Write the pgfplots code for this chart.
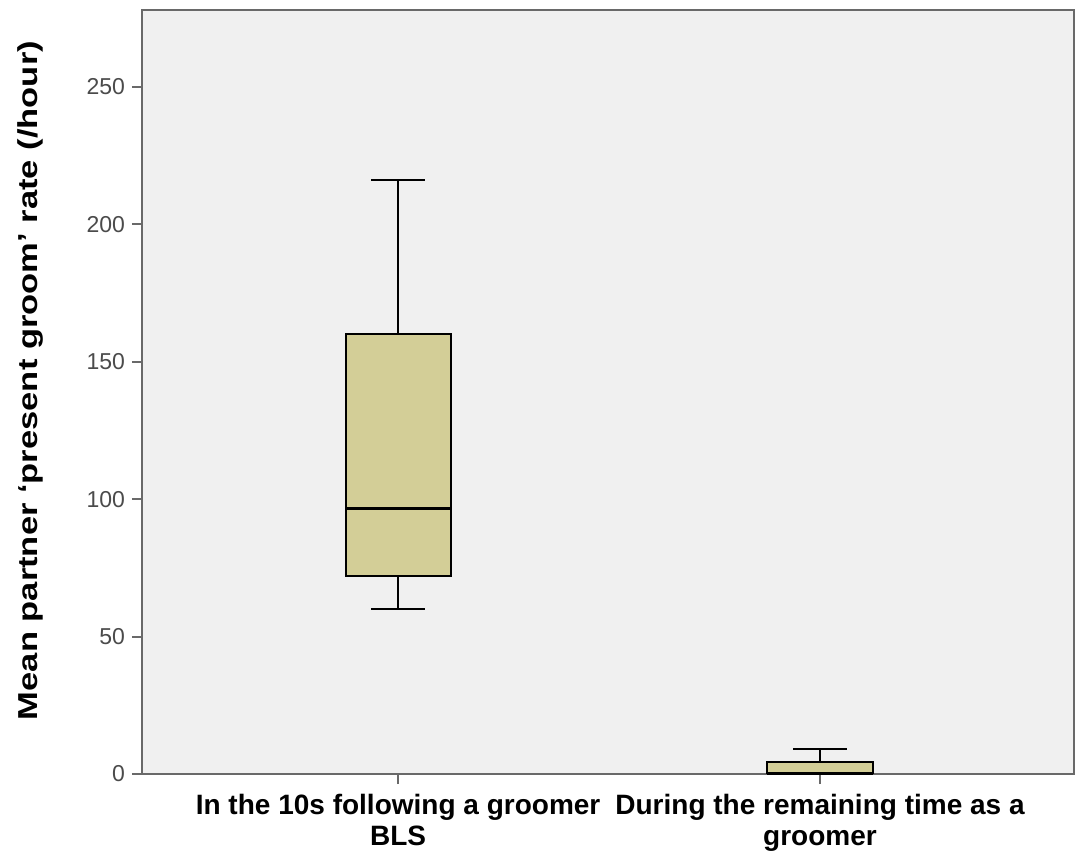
\documentclass[border=0pt]{standalone}
\usepackage{fontspec}
\setmainfont{Liberation Sans}
\usepackage{graphicx}
\usepackage{pgfplots}
\pgfplotsset{compat=1.18}
\definecolor{boxfill}{RGB}{211,206,151}
\definecolor{panelbg}{RGB}{240,240,240}
\definecolor{framegray}{RGB}{105,105,105}
\definecolor{ticktext}{RGB}{75,75,75}

\begin{document}
\begin{tikzpicture}
\useasboundingbox (-71pt,-39pt) rectangle (467pt,387pt);
\begin{axis}[
  scale only axis,
  width=466pt, height=382pt,
  xmin=0.393, xmax=2.602,
  ymin=0, ymax=278,
  axis background/.style={fill=panelbg},
  axis line style={framegray, line width=1pt},
  tick style={framegray, line width=1pt},
  tick align=outside,
  tick pos=left,
  major tick length=5pt,
  xtick={1,2},
  xticklabels={In the 10s following a groomer\\BLS, During the remaining time as a\\groomer},
  xticklabel style={align=center, font=\bfseries\fontsize{14}{15.5}\selectfont, text=black, yshift=-1.5pt},
  ytick={0,50,100,150,200,250},
  yticklabel style={font=\fontsize{11.5}{12}\selectfont, text=ticktext},
  /pgf/number format/assume math mode=true,
  ylabel={\scalebox{1.26}[1]{Mean partner ‘present groom’ rate (/hour)}},
  ylabel style={font=\bfseries\fontsize{13.7}{15}\selectfont, at={(axis description cs:-0.12,0.515)}, anchor=center},
]
% group 1: whiskers 60 to 216, box 72 to 160, median 96.5
\addplot[black, line width=1pt] coordinates {(1,160) (1,216)};
\addplot[black, line width=1pt] coordinates {(1,60) (1,72)};
\addplot[black, line width=1pt] coordinates {(0.936,216) (1.064,216)};
\addplot[black, line width=1pt] coordinates {(0.936,60) (1.064,60)};
\addplot[draw=black, fill=boxfill, line width=1pt] coordinates {(0.8755,72) (1.1245,72) (1.1245,160) (0.8755,160)} -- cycle;
\addplot[black, line width=1.5pt] coordinates {(0.8755,96.5) (1.1245,96.5)};
% group 2: whiskers 0 to 9.2, box 0.3 to 4.3, median 0.3
\addplot[black, line width=1pt] coordinates {(2,4.3) (2,9.2)};
\addplot[black, line width=1pt] coordinates {(1.936,9.2) (2.064,9.2)};
\addplot[draw=black, fill=boxfill, line width=1pt] coordinates {(1.8755,0.3) (2.1245,0.3) (2.1245,4.3) (1.8755,4.3)} -- cycle;
\addplot[black, line width=1.5pt] coordinates {(1.8755,0.3) (2.1245,0.3)};
\end{axis}
\end{tikzpicture}
\end{document}
